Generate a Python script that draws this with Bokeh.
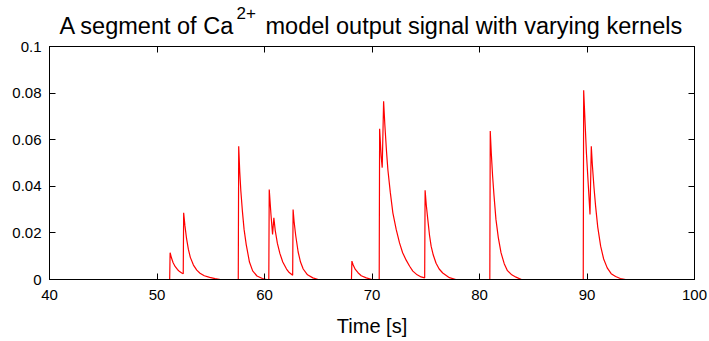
from bokeh.plotting import figure
from bokeh.models import Range1d, FixedTicker, LinearAxis
from bokeh.layouts import column
from bokeh.core.properties import value
from bokeh.embed import file_html
from bokeh.resources import INLINE

# ---- data ----
time_s = [
    40.0, 51.18, 51.22, 51.35, 51.5, 51.7, 51.9, 52.1, 52.3, 52.44,
    52.48, 52.6, 52.75, 52.92, 53.1, 53.39, 53.7, 54.0, 54.4, 54.9, 55.4, 55.9,
    57.56, 57.6, 57.7, 57.8, 57.95, 58.1, 58.3, 58.6, 58.9, 59.3, 59.8, 60.2,
    60.40, 60.44, 60.6, 60.75, 60.87, 61.0, 61.2, 61.43, 61.7, 62.05, 62.3, 62.62,
    62.66, 62.75, 62.9, 63.13, 63.35, 63.6, 64.0, 64.5, 65.0,
    68.09, 68.13, 68.25, 68.45, 68.7, 69.0, 69.47, 70.0,
    70.67, 70.71, 70.85, 70.95, 71.08, 71.2, 71.35, 71.48, 71.7, 71.94, 72.25,
    72.56, 72.85, 73.18, 73.5, 73.8, 74.2, 74.57, 74.9,
    74.94, 75.05, 75.19, 75.35, 75.5, 75.7, 75.96, 76.25, 76.58, 77.2, 77.8,
    80.96, 81.0, 81.1, 81.22, 81.35, 81.53, 81.75, 82.0, 82.3, 82.6, 83.0, 83.4, 83.9,
    89.65, 89.69, 89.95, 90.28, 90.40, 90.5, 90.65, 90.8, 91.0, 91.27, 91.55,
    91.88, 92.25, 92.66, 93.1, 93.6, 100.0,
]
calcium = [
    0.0, 0.0, 0.0115, 0.0092, 0.0072, 0.0055, 0.0043, 0.0034, 0.0028, 0.0025,
    0.0286, 0.023, 0.0175, 0.0129, 0.0095, 0.0062, 0.004, 0.0027, 0.0016, 0.0009, 0.0004, 0.0,
    0.0, 0.0572, 0.046, 0.038, 0.029, 0.0215, 0.015, 0.0075, 0.0037, 0.0015, 0.0004, 0.0,
    0.0, 0.0386, 0.028, 0.0193, 0.0265, 0.021, 0.0155, 0.0112, 0.0075, 0.0045, 0.003, 0.0018,
    0.030, 0.025, 0.019, 0.0118, 0.0075, 0.0045, 0.002, 0.0007, 0.0,
    0.0, 0.0079, 0.0062, 0.0043, 0.0029, 0.0016, 0.0007, 0.0,
    0.0, 0.0647, 0.053, 0.048, 0.0765, 0.066, 0.055, 0.047, 0.0375, 0.0286, 0.0215,
    0.0157, 0.0115, 0.0083, 0.0057, 0.0036, 0.002, 0.0011, 0.0007,
    0.0383, 0.032, 0.0258, 0.019, 0.0143, 0.0105, 0.007, 0.0045, 0.0028, 0.0008, 0.0,
    0.0, 0.0637, 0.054, 0.0443, 0.036, 0.0258, 0.018, 0.0115, 0.0068, 0.0038, 0.002, 0.001, 0.0,
    0.0, 0.0812, 0.054, 0.0279, 0.0572, 0.049, 0.0395, 0.0315, 0.0225, 0.0143, 0.0088,
    0.005, 0.0025, 0.0013, 0.0004, 0.0, 0.0,
]

x_ticks = [40, 50, 60, 70, 80, 90, 100]
x_tick_labels = ["40", "50", "60", "70", "80", "90", "100"]
y_ticks = [0.0, 0.02, 0.04, 0.06, 0.08, 0.1]
y_tick_labels = ["0", "0.02", "0.04", "0.06", "0.08", "0.1"]

title_main = "A segment of Ca"
title_sup = "2+"
title_rest = "model output signal with varying kernels"
x_label = "Time [s]"

FONT = "Liberation Sans"
W, H = 709, 341
LEFT, RIGHT = 49, 15          # plot frame borders (px)
TITLE_H = 39                  # height of the title strip
PLOT_TOP = 7                  # gap between title strip and plot frame

# ---------- title strip (x = page pixel, y = pixel from the strip top) ----------
t = figure(width=W, height=TITLE_H, output_backend="svg", toolbar_location=None,
           x_range=Range1d(LEFT, W - RIGHT), y_range=Range1d(TITLE_H, 0),
           x_axis_location=None, y_axis_location=None,
           min_border_left=LEFT, min_border_right=RIGHT,
           min_border_top=0, min_border_bottom=0)
t.title.visible = False
t.xgrid.visible = False
t.ygrid.visible = False
t.outline_line_color = None
t.background_fill_color = "white"
t.border_fill_color = "white"
t.text(x=[234], y=[25], text=[title_main], text_align="right", text_baseline="alphabetic",
       text_font=value(FONT), text_font_size="23.5px", text_color="black")
t.text(x=[236], y=[12], text=[title_sup], text_align="left", text_baseline="alphabetic",
       text_font=value(FONT), text_font_size="17px", text_color="black")
t.text(x=[265], y=[25], text=[title_rest], text_align="left", text_baseline="alphabetic",
       text_font=value(FONT), text_font_size="23.5px", text_color="black")

# ---------- main plot ----------
p = figure(width=W, height=H - TITLE_H, output_backend="svg", toolbar_location=None,
           x_range=Range1d(40, 100), y_range=Range1d(0, 0.1),
           x_axis_location=None, y_axis_location=None,
           min_border_left=LEFT, min_border_right=RIGHT,
           min_border_top=PLOT_TOP, min_border_bottom=62)
p.title.visible = False
p.xgrid.visible = False
p.ygrid.visible = False
p.outline_line_color = "black"
p.outline_line_width = 1
p.background_fill_color = "white"
p.border_fill_color = "white"


def style_axis(ax, ticks, labels, show):
    ax.ticker = FixedTicker(ticks=ticks)
    ax.major_tick_in = 6
    ax.major_tick_out = 0
    ax.minor_tick_line_color = None
    ax.axis_line_color = "black"
    ax.major_tick_line_color = "black"
    if show:
        ax.major_label_overrides = {tk: lb for tk, lb in zip(ticks, labels)}
        ax.major_label_text_font = FONT
        ax.major_label_text_font_size = "15px"
        ax.major_label_text_color = "black"
    else:
        ax.major_label_overrides = {tk: "" for tk in ticks}
        ax.major_label_standoff = 0


xb = LinearAxis()
style_axis(xb, x_ticks, x_tick_labels, True)
xb.major_label_standoff = 10
xb.axis_label = x_label
xb.axis_label_text_font = FONT
xb.axis_label_text_font_size = "20px"
xb.axis_label_text_font_style = "normal"
xb.axis_label_text_color = "black"
xb.axis_label_standoff = 12
p.add_layout(xb, "below")

yl = LinearAxis()
style_axis(yl, y_ticks, y_tick_labels, True)
yl.major_label_standoff = 8
p.add_layout(yl, "left")

xt = LinearAxis()
style_axis(xt, x_ticks, x_tick_labels, False)
p.add_layout(xt, "above")

yr = LinearAxis()
style_axis(yr, y_ticks, y_tick_labels, False)
p.add_layout(yr, "right")

p.line(time_s, calcium, line_color="#ff0000", line_width=1.2)

layout = column(t, p, spacing=0)
open("out.html", "w").write(file_html(layout, INLINE))
